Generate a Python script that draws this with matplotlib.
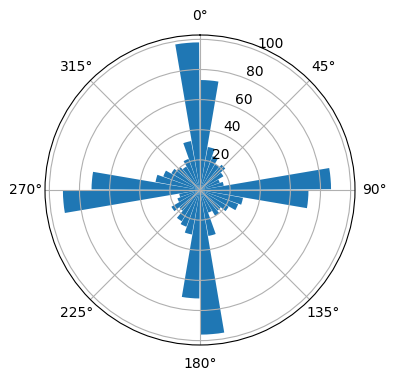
import numpy as np
import matplotlib
matplotlib.use("Agg")
import matplotlib.pyplot as plt

# bin start angles (degrees) and counts
bin_starts_deg = list(range(0, 360, 10))
counts = [73, 29, 24, 20, 22, 18, 14, 16, 87,
          72, 29, 27, 22, 18, 20, 16, 31, 96,
          72, 30, 26, 24, 18, 22, 16, 14, 91,
          72, 30, 26, 22, 20, 18, 22, 33, 98]

bin_width_deg = 10

fig = plt.figure(figsize=(3.96, 3.80), dpi=100)
ax = fig.add_axes([45/396, 35/380, 310/396, 310/380], projection='polar')
ax.set_theta_zero_location('N')
ax.set_theta_direction(-1)

theta = np.deg2rad(np.array(bin_starts_deg) + bin_width_deg / 2)
width = np.deg2rad(bin_width_deg) * 0.93
ax.bar(theta, counts, width=width, color='#1f77b4')

fig.savefig('out.png', dpi=100)
